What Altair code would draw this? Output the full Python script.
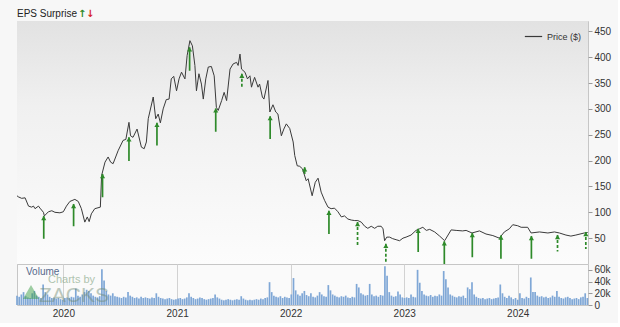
import altair as alt
import pandas as pd

# ---------------- data ----------------
price_dates = [
    "2019-08-05", "2019-08-09", "2019-08-20", "2019-08-31", "2019-09-11", "2019-09-21", "2019-09-27",
    "2019-10-02", "2019-10-13", "2019-10-18", "2019-10-29", "2019-11-01", "2019-11-14", "2019-11-25",
    "2019-12-05", "2019-12-21", "2020-01-01", "2020-01-11", "2020-01-22", "2020-02-07", "2020-02-18",
    "2020-02-28", "2020-03-10", "2020-03-18", "2020-03-24", "2020-03-31", "2020-04-11", "2020-04-29",
    "2020-05-03", "2020-05-14", "2020-05-24", "2020-06-01", "2020-06-09", "2020-06-25", "2020-07-11",
    "2020-07-20", "2020-07-30", "2020-08-04", "2020-08-12", "2020-08-25", "2020-09-08", "2020-09-17",
    "2020-09-24", "2020-09-30", "2020-10-16", "2020-10-24", "2020-11-01", "2020-11-08", "2020-11-17",
    "2020-11-27", "2020-12-06", "2020-12-13", "2020-12-21", "2020-12-30", "2021-01-07", "2021-01-15",
    "2021-01-26", "2021-02-02", "2021-02-11", "2021-02-19", "2021-02-27", "2021-03-04", "2021-03-12",
    "2021-03-20", "2021-03-26", "2021-04-03", "2021-04-11", "2021-04-21", "2021-04-30", "2021-05-07",
    "2021-05-13", "2021-05-24", "2021-06-01", "2021-06-09", "2021-06-20", "2021-06-30", "2021-07-11",
    "2021-07-16", "2021-07-22", "2021-07-27", "2021-08-07", "2021-08-15", "2021-08-23", "2021-08-28",
    "2021-09-02", "2021-09-07", "2021-09-18", "2021-09-23", "2021-10-02", "2021-10-07", "2021-10-20",
    "2021-10-26", "2021-11-05", "2021-11-14", "2021-11-21", "2021-12-02", "2021-12-10", "2021-12-18",
    "2021-12-29", "2022-01-09", "2022-01-14", "2022-01-22", "2022-01-30", "2022-02-08", "2022-02-20",
    "2022-02-26", "2022-03-11", "2022-03-21", "2022-03-30", "2022-04-09", "2022-04-20", "2022-05-01",
    "2022-05-11", "2022-05-22", "2022-06-02", "2022-06-13", "2022-06-23", "2022-07-04", "2022-07-15",
    "2022-07-26", "2022-08-05", "2022-08-16", "2022-08-27", "2022-09-06", "2022-09-17", "2022-09-28",
    "2022-10-08", "2022-10-19", "2022-10-25", "2022-10-30", "2022-11-06", "2022-11-15", "2022-11-25",
    "2022-12-06", "2022-12-17", "2022-12-28", "2023-01-07", "2023-01-23", "2023-02-08", "2023-02-19",
    "2023-03-02", "2023-03-13", "2023-03-24", "2023-04-09", "2023-04-25", "2023-05-11", "2023-06-01",
    "2023-06-17", "2023-07-08", "2023-07-19", "2023-08-07", "2023-08-31", "2023-09-21", "2023-10-13",
    "2023-11-03", "2023-11-19", "2023-12-05", "2023-12-16", "2024-01-01", "2024-01-12", "2024-02-02",
    "2024-02-13", "2024-03-11", "2024-04-07", "2024-04-28", "2024-05-14", "2024-06-04", "2024-06-20",
    "2024-07-06", "2024-08-02", "2024-08-13",
]
price_values = [
    132, 130, 127, 128, 112, 110, 112,
    107, 112, 108, 100, 93, 101, 103,
    100, 99, 101, 112, 121, 125, 121,
    107, 81, 91, 82, 97, 107, 110,
    171, 197, 207, 197, 194, 219, 239,
    241, 274, 248, 245, 261, 226, 223,
    236, 281, 323, 281, 290, 273, 300,
    318, 319, 358, 363, 335, 358, 371,
    358, 403, 432, 422, 384, 335, 368,
    348, 319, 358, 381, 382, 364, 303,
    297, 316, 332, 316, 377, 387, 390,
    384, 406, 377, 371, 358, 364, 342,
    352, 361, 342, 348, 323, 319, 355,
    294, 308, 294, 290, 248, 261, 271,
    262, 236, 210, 190, 189, 184, 161,
    165, 132, 158, 166, 139, 123, 110,
    107, 108, 101, 91, 93, 87, 85,
    84, 84, 81, 73, 69, 73, 69,
    73, 73, 68, 45, 52, 52, 49,
    47, 45, 50, 52, 56, 65, 68,
    71, 65, 67, 62, 54, 45, 66,
    65, 64, 65, 60, 64, 58, 55,
    50, 62, 68, 76, 74, 71, 71,
    60, 62, 60, 62, 60, 56, 54,
    56, 60, 61,
]

eps_dates = [
    "2019-10-30", "2020-02-03", "2020-05-06", "2020-07-30", "2020-10-28", "2021-02-10", "2021-05-05",
    "2021-07-28", "2021-10-27", "2022-02-15", "2022-05-04", "2022-08-04", "2022-11-03", "2023-02-15",
    "2023-05-10", "2023-08-08", "2023-11-08", "2024-02-14", "2024-05-08", "2024-08-07",
]
eps_top = [93, 116, 174, 245, 273, 419, 301, 368, 286, 187, 103, 81, 39, 68, 44, 60, 55, 54, 56, 62]
eps_bottom = [49, 73, 129, 199, 229, 374, 256, 339, 242, 174, 58, 36, 2, 23, -3, 13, 10, 10, 24, 29]
eps_style = ["solid", "solid", "solid", "solid", "solid", "solid", "solid",
             "dashed", "solid", "solid", "solid", "dashed", "dashed", "solid",
             "solid", "solid", "solid", "solid", "dashed", "dashed"]

volume_start = "2019-08-05"   # weekly bars
volume_k = [
    16, 14, 18, 22, 15, 13, 12, 20, 24, 16, 14, 12, 35, 22, 18, 14, 12, 13, 11, 12, 10, 9,
    12, 13, 12, 14, 13, 28, 16, 14, 18, 22, 26, 24, 20, 16, 14, 13, 15,
    61, 42, 24, 18, 16, 20, 15, 14, 13, 12, 14, 13,
    22, 16, 14, 12, 13, 11, 14, 12, 13, 12, 11, 13, 12,
    20, 14, 12, 11, 10, 11, 12, 10, 9, 10,
    11, 12, 10, 11, 13, 20,
    14, 12, 10, 11, 13, 12, 10, 9, 10, 11, 12, 18,
    13, 11, 9, 8, 9, 10, 9, 8, 9, 10, 9, 15,
    11, 9, 8, 9, 8, 9, 10, 9, 11, 10, 12, 13, 39, 22,
    16, 14, 13, 15, 12, 14, 13, 12,
    18, 46, 25, 18, 16, 20, 24,
    17, 15, 20, 14, 13, 16, 22, 18, 15, 14,
    34, 25, 18, 16, 14, 13, 15, 14, 16, 13, 12, 14, 13,
    36, 30, 20, 18, 16, 17, 36, 18, 15, 16, 14, 17, 16,
    66, 50, 22, 16, 14, 15, 23, 18, 13,
    12, 13, 12, 18, 14, 13, 60, 38, 24,
    18, 16, 15, 17, 14, 16, 15, 18, 16,
    58, 44, 30, 18, 16, 14, 13, 15, 14, 16, 12,
    30, 27, 39, 18, 14, 12, 11, 12, 10, 11, 12, 10, 11, 12, 13,
    35, 20, 14, 12, 16, 13, 10, 12,
    9, 20, 12, 11, 14, 12,
    47, 22, 22, 16, 14, 15, 13, 14, 12, 13, 16, 14,
    24, 14, 12, 11, 13, 14, 12, 10, 11, 12, 10, 13, 14, 20, 12,
]

year_ticks = [2020, 2021, 2022, 2023, 2024]
price_ticks = [50, 100, 150, 200, 250, 300, 350, 400, 450]
volume_ticks = [0, 20000, 40000, 60000]

# ---------------- tables ----------------
price_df = pd.DataFrame({"date": price_dates, "price": price_values, "series": "Price ($)"})
eps_df = pd.DataFrame({"date": eps_dates, "price": eps_top, "bottom": eps_bottom, "style": eps_style})
vol_dates = pd.date_range(volume_start, periods=len(volume_k), freq="7D").strftime("%Y-%m-%d")
vol_df = pd.DataFrame({"date": list(vol_dates), "volume": [v * 1000 for v in volume_k]})

W, H1, H2 = 571, 243, 41
GREEN = "#2e8a2a"
RED = "#d6232a"
FONT = "Liberation Sans"

x_scale = alt.Scale(domain=[alt.DateTime(year=2019, month=8, date=5),
                            alt.DateTime(year=2024, month=8, date=14)], padding=0)
year_vals = [alt.DateTime(year=y, month=1, date=1) for y in year_ticks]

x_top = alt.X("date:T", scale=x_scale, title=None,
              axis=alt.Axis(values=year_vals, labels=False, ticks=False, domain=False,
                            grid=True, gridColor="#d2d2d2", title=None))
y_price = alt.Y("price:Q", title=None,
                scale=alt.Scale(domain=[0, 470], nice=False, zero=False),
                axis=alt.Axis(orient="right", values=price_ticks, grid=True, gridColor="#d8d8d8",
                              tickColor="#9a9a9a", tickSize=4, domain=False, title=None,
                              labelFontSize=10, labelColor="#333", labelPadding=2,
                              labelOverlap=False))

# background gradient for price panel
bg = alt.Chart(pd.DataFrame({"a": [0]})).mark_rect(
    fill=alt.Gradient(gradient="linear", x1=0, x2=0, y1=0, y2=1,
                      stops=[alt.GradientStop(offset=0, color="#e2e2e2"),
                             alt.GradientStop(offset=0.35, color="#f0f0f0"),
                             alt.GradientStop(offset=1, color="#fcfcfc")])
).encode(x=alt.value(0), x2=alt.value(W), y=alt.value(0), y2=alt.value(H1))

price_line = alt.Chart(price_df).mark_line(strokeWidth=1).encode(
    x=x_top,
    y=y_price,
    color=alt.Color("series:N", scale=alt.Scale(range=["#3a3a3a"]),
                    legend=alt.Legend(orient="top-right", title=None, symbolType="stroke",
                                      symbolSize=300, symbolStrokeWidth=1.2, labelFontSize=9,
                                      labelColor="#333", offset=6, padding=0,
                                      labelFont=FONT)),
)

arrow_stems = alt.Chart(eps_df).mark_rule(color=GREEN, strokeWidth=1.7).encode(
    x=x_top,
    y=y_price,
    y2="bottom:Q",
    strokeDash=alt.StrokeDash("style:N",
                              scale=alt.Scale(domain=["solid", "dashed"], range=[[1, 0], [3, 2]]),
                              legend=None),
)
arrow_heads = alt.Chart(eps_df).mark_point(shape="triangle-up", filled=True, size=26,
                                           color=GREEN, opacity=1, yOffset=2).encode(
    x=x_top, y=y_price)

txt = pd.DataFrame({"t": ["EPS Surprise"], "u": ["\u2191"], "d": ["\u2193"]})
title_txt = alt.Chart(txt).mark_text(align="left", baseline="alphabetic", fontSize=10,
                                     color="#222", font=FONT).encode(
    x=alt.value(0), y=alt.value(-4), text="t:N")
up_txt = alt.Chart(txt).mark_text(align="left", baseline="alphabetic", fontSize=10,
                                  fontWeight="bold", color=GREEN, font="DejaVu Sans").encode(
    x=alt.value(61), y=alt.value(-4), text="u:N")
down_txt = alt.Chart(txt).mark_text(align="left", baseline="alphabetic", fontSize=10,
                                    fontWeight="bold", color=RED, font="DejaVu Sans").encode(
    x=alt.value(69), y=alt.value(-4), text="d:N")

top = alt.layer(bg, price_line, arrow_stems, arrow_heads, title_txt, up_txt, down_txt).properties(
    width=W, height=H1)

# volume panel
vol_bars = alt.Chart(vol_df).mark_bar(width=1.7, color="#7fa7d6").encode(
    x=alt.X("date:T", scale=x_scale,
            axis=alt.Axis(values=year_vals, format="%Y", grid=True, gridColor="#d2d2d2",
                          ticks=False, domain=False, labelFontSize=10, labelColor="#333",
                          labelPadding=3, title=None)),
    y=alt.Y("volume:Q", scale=alt.Scale(domain=[0, 70000], nice=False),
            axis=alt.Axis(orient="right", values=volume_ticks,
                          labelExpr="datum.value == 0 ? '0' : format(datum.value / 1000, 'd') + 'k'",
                          grid=False, tickColor="#9a9a9a", tickSize=4, domain=False, title=None,
                          labelFontSize=10, labelColor="#333", labelPadding=2,
                          labelOverlap=False)),
)
wm = pd.DataFrame({"v": ["Volume"], "c": ["Charts by"], "z": ["ZACKS"]})
vol_label = alt.Chart(wm).mark_text(align="left", baseline="alphabetic", fontSize=10,
                                    color="#56698c", font=FONT).encode(
    x=alt.value(9), y=alt.value(11), text="v:N")
wm_charts = alt.Chart(wm).mark_text(align="left", baseline="alphabetic", fontSize=11,
                                    color="#7da07d", opacity=0.6, font=FONT).encode(
    x=alt.value(31), y=alt.value(19), text="c:N")
wm_zacks = alt.Chart(wm).mark_text(align="left", baseline="alphabetic", fontSize=21,
                                   color="#6f8a72", opacity=0.45, font=FONT).encode(
    x=alt.value(22), y=alt.value(38), text="z:N")
wm_logo = alt.Chart(wm).mark_point(shape="triangle-up", filled=True, size=260,
                                   color="#3f9f4a", opacity=0.5).encode(
    x=alt.value(14), y=alt.value(28))

bottom = alt.layer(vol_bars, vol_label, wm_charts, wm_zacks, wm_logo).properties(
    width=W, height=H2, view=alt.ViewConfig(fill="#fafafa"))

chart = alt.vconcat(top, bottom, spacing=0, bounds="flush").properties(
    background="#f7f7f7",
    padding={"left": 14, "top": 8, "right": 6, "bottom": 4},
).configure_view(stroke="#c6c6c6").configure_axis(
    labelFont=FONT, labelOverlap=False
).configure_text(font=FONT).configure_scale(continuousPadding=0)

chart.save("out.html", embed_options={"renderer": "svg", "actions": False})
